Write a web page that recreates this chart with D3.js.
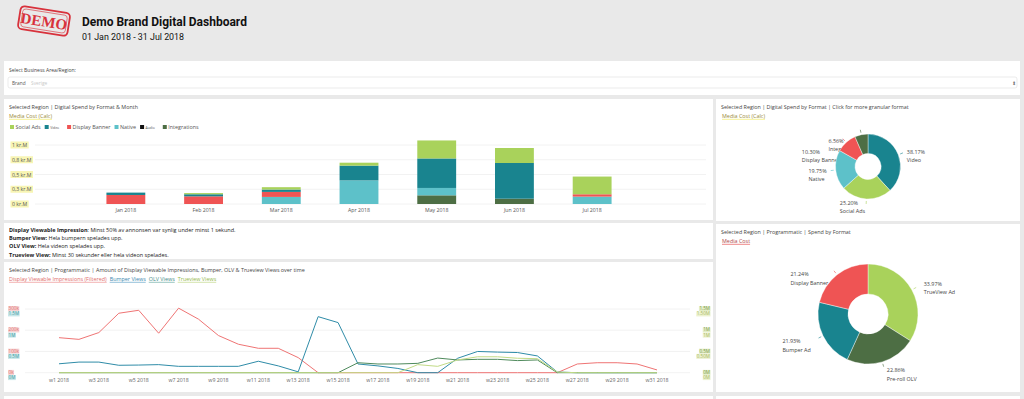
<!DOCTYPE html>
<html><head><meta charset="utf-8">
<script src="https://cdn.jsdelivr.net/npm/d3@7"></script>
<style>
html,body{margin:0;padding:0;background:#e9e9e9;overflow:hidden;}
svg{display:block;font-family:"Open Sans",sans-serif;}
</style></head><body>
<svg id="c" width="1024" height="399"></svg>
<script>
// ---------- DATA ----------
const months = ["Jan 2018","Feb 2018","Mar 2018","Apr 2018","May 2018","Jun 2018","Jul 2018"];
const formats = ["Integrations","Native","Display Banner","Audio","Video","Social Ads"];
const integrations  = [0, 0, 0, 0, 0.147, 0.09, 0];
const native        = [0, 0, 0.12, 0.40, 0.125, 0, 0.125];
const displayBanner = [0.153, 0.13, 0.085, 0, 0, 0, 0.04];
const audio         = [0, 0, 0, 0, 0, 0, 0];
const video         = [0.04, 0.035, 0.04, 0.25, 0.50, 0.605, 0];
const socialAds     = [0, 0.02, 0.04, 0.05, 0.305, 0.254, 0.30];
const barTicks = [0, 0.25, 0.5, 0.75, 1];
const barTickLabels = ["0 kr.M","0,3 kr.M","0,5 kr.M","0,8 kr.M","1 kr.M"];
const legendOrder = ["Social Ads","Video","Display Banner","Native","Audio","Integrations"];

const donut1Names  = ["Video","Social Ads","Native","Display Banner","Integrations"];
const donut1Shares = [38.17, 25.20, 19.75, 10.30, 6.56];
const donut2Names  = ["TrueView Ad","Pre-roll OLV","Bumper Ad","Display Banner"];
const donut2Shares = [33.97, 22.86, 21.93, 21.24];

const weeks = [1,2,3,4,5,6,7,8,9,10,11,12,13,14,15,16,17,18,19,20,21,22,23,24,25,26,27,28,29,30,31];
const weekLabels = ["w1 2018","w3 2018","w5 2018","w7 2018","w9 2018","w11 2018","w13 2018","w15 2018","w17 2018","w19 2018","w21 2018","w23 2018","w25 2018","w27 2018","w29 2018","w31 2018"];
const weekLabelWeeks = [1,3,5,7,9,11,13,15,17,19,21,23,25,27,29,31];
// Display Viewable Impressions (k)
const displayImpr = [165,157,189,280,294,186,304,252,175,134,115,115,71,0,0,0,0,0,0,0,0,0,0,0,0,0,41,47,47,41,13];
// Bumper Views (M)
const bumperViews = [0.21,0.25,0.25,0.175,0.18,0.19,0.15,0.15,0.15,0.15,0.27,0.16,0.02,1.32,1.18,0.205,0.16,0.1,0,0,0.34,0.5,0.485,0.475,0.395,0.015,0,0,0,0,0];
// OLV Views (M)
const olvViews = [0,0,0,0,0,0,0,0,0,0,0,0,0,0,0,0.235,0.205,0.205,0.22,0.345,0.3,0.315,0.315,0.285,0.3,0,0,0,0,0,0];
// Trueview Views (M)
const trueviewViews = [0,0,0,0,0,0,0,0,0,0,0,0,0,0,0,0,0,0,0.19,0.15,0.3,0.375,0.375,0.34,0.33,0.015,0,0,0,0,0];
const leftTicksRed  = ["0k","100k","200k","300k"];
const leftTicksTeal = ["0M","0.5M","1M","1.5M"];
const rightTicksA   = ["0M","0.5M","1M","1.5M"];
const rightTicksB   = ["0M","0.50M","1M","1.50M"];
const lineLegend = ["Display Viewable Impressions (Filtered)","Bumper Views","OLV Views","Trueview Views"];

// ---------- STYLE ----------
const col = {
  "Social Ads":"#a9d25b","Video":"#19848f","Display Banner":"#ef5454","Native":"#5dc1c9",
  "Audio":"#111111","Integrations":"#4d6e44",
  "TrueView Ad":"#a9d25b","Pre-roll OLV":"#4d6e44","Bumper Ad":"#19848f"
};
const txt = "#444";
const svg = d3.select("#c");

// ---------- HEADER ----------
const stamp = svg.append("g").attr("transform","translate(44,21) rotate(9)");
stamp.append("rect").attr("x",-25).attr("y",-11.5).attr("width",50).attr("height",23).attr("rx",4)
  .attr("fill","none").attr("stroke","#d8323c").attr("stroke-width",1.8);
stamp.append("rect").attr("x",-22.5).attr("y",-9).attr("width",45).attr("height",18).attr("rx",3)
  .attr("fill","none").attr("stroke","#d8323c").attr("stroke-width",0.6);
stamp.append("text").attr("x",0).attr("y",5.5).attr("text-anchor","middle")
  .attr("font-family","'Liberation Serif',serif").attr("font-weight","bold").attr("font-size",15)
  .attr("fill","#d8323c").text("DEMO");
svg.append("text").attr("x",82).attr("y",26).attr("font-family","Roboto,sans-serif").attr("font-weight","bold")
  .attr("font-size",12).attr("fill","#111").text("Demo Brand Digital Dashboard");
svg.append("text").attr("x",82).attr("y",39.5).attr("font-family","Roboto,sans-serif")
  .attr("font-size",8.9).attr("fill","#111").text("01 Jan 2018 - 31 Jul 2018");

// ---------- PANELS ----------
function panel(x,y,w,h){ svg.append("rect").attr("x",x).attr("y",y).attr("width",w).attr("height",h).attr("fill","#fff"); }
panel(4,61,1016,34);
panel(4,99,709,121);
panel(716,99,304,122);
panel(4,223,709,36);
panel(4,262,709,130);
panel(716,224,304,168);
panel(4,396,709,10);
panel(716,396,304,10);

function small(x,y,t,opts={}){
  const e = svg.append("text").attr("x",x).attr("y",y).attr("font-size",opts.size||5.4)
    .attr("fill",opts.fill||txt).text(t);
  if(opts.weight) e.attr("font-weight",opts.weight);
  if(opts.anchor) e.attr("text-anchor",opts.anchor);
  return e;
}
function underline(x,y,t,color,lineColor){
  const e = small(x,y,t,{fill:color});
  const w = e.node().getComputedTextLength();
  svg.append("line").attr("x1",x).attr("x2",x+w).attr("y1",y+1.3).attr("y2",y+1.3)
    .attr("stroke",lineColor).attr("stroke-width",0.8);
  return w;
}
function bgBehind(textSel,x,y,w,h,fill){
  const n = textSel.node();
  svg.insert("rect",()=>n).attr("x",x).attr("y",y).attr("width",w).attr("height",h).attr("fill",fill);
}

// selector
small(9,72,"Select Business Area/Region:",{size:5});
svg.append("rect").attr("x",8).attr("y",77).attr("width",1009).attr("height",11).attr("rx",2)
  .attr("fill","#fff").attr("stroke","#e2e2e2").attr("stroke-width",0.7);
small(12,84.5,"Brand",{size:4.8,fill:"#555"});
small(31,84.5,"Sverige",{size:4.8,fill:"#c8c8c8"});
small(1012,84.5,"⬍",{size:5,fill:"#777"});

// ---------- BAR CHART ----------
small(9,109,"Selected Region | Digital Spend by Format & Month");
underline(9,118,"Media Cost (Calc)","#9a8a3a","#f3ee7a");
{
  let lx = 10;
  legendOrder.forEach(n=>{
    svg.append("rect").attr("x",lx).attr("y",125).attr("width",4).attr("height",4).attr("fill",col[n]);
    const tiny = (n==="Video"||n==="Audio");
    const t = small(lx+5.5,129.3,n,{size: tiny?3.4:5.4, fill:"#555"});
    lx += 5.5 + t.node().getComputedTextLength() + (tiny?8:4);
  });
}
const bx = d3.scaleBand().domain(months).range([87,631]).paddingInner(0.5).paddingOuter(0.25);
const by = d3.scaleLinear().domain([0,1]).range([204,145]);
svg.append("g").selectAll("line").data(barTicks).join("line")
  .attr("x1",35).attr("x2",706).attr("y1",d=>by(d)).attr("y2",d=>by(d))
  .attr("stroke","#efefef").attr("stroke-width",0.8);
barTicks.forEach((d,i)=>{
  const t = small(12,by(d)+2,barTickLabels[i],{size:5.2,fill:"#555"});
  const w = t.node().getComputedTextLength();
  bgBehind(t,10.5,by(d)-3.5,w+3,7,"#f8f5b4");
});
const seriesMap = {"Integrations":integrations,"Native":native,"Display Banner":displayBanner,"Audio":audio,"Video":video,"Social Ads":socialAds};
const table = months.map((m,i)=>{ const o={month:m}; formats.forEach(f=>o[f]=seriesMap[f][i]); return o; });
const stack = d3.stack().keys(formats)(table);
svg.append("g").selectAll("g").data(stack).join("g").attr("fill",d=>col[d.key])
  .selectAll("rect").data(d=>d).join("rect")
  .attr("x",d=>bx(d.data.month)).attr("width",bx.bandwidth())
  .attr("y",d=>by(d[1])).attr("height",d=>Math.max(0,by(d[0])-by(d[1])));
months.forEach(m=>small(bx(m)+bx.bandwidth()/2,211.5,m,{anchor:"middle",size:5.2,fill:"#555"}));

// ---------- DONUTS ----------
function donut(cx,cy,r,names,shares,title,subtitle,subColor,subLine,titleY){
  small(721,titleY,title);
  underline(722,titleY+9,subtitle,subColor,subLine);
  const data = names.map((n,i)=>({name:n,value:shares[i]}));
  const arcs = d3.pie().value(d=>d.value).sort(null)(data);
  const arc = d3.arc().innerRadius(r*0.4).outerRadius(r);
  const g = svg.append("g").attr("transform",`translate(${cx},${cy})`);
  const R = r*1.25;
  const labels = arcs.map(a=>{
    const m = (a.startAngle+a.endAngle)/2;
    return {a, m, x: Math.sin(m)*R, y: -Math.cos(m)*R, right: Math.sin(m)>0.05};
  });
  ["L","R"].forEach(side=>{
    const L = labels.filter(l=>(side==="R")===l.right).sort((p,q)=>p.y-q.y);
    let prev = -Infinity;
    L.forEach(l=>{ l.y = Math.max(l.y, -r*0.8, prev+11); l.y = Math.min(l.y, r*1.12); prev=l.y; });
  });
  labels.forEach(l=>{
    const p1 = [Math.sin(l.m)*(r+2), -Math.cos(l.m)*(r+2)];
    const p2 = [Math.sin(l.m)*(r+5), -Math.cos(l.m)*(r+5)];
    g.append("line").attr("x1",p1[0]).attr("y1",p1[1]).attr("x2",p2[0]).attr("y2",p2[1])
      .attr("stroke",col[l.a.data.name]).attr("stroke-width",0.6);
    const lg = g.append("g");
    const t1 = lg.append("text").attr("y",l.y+2).attr("font-size",5.4).attr("fill",txt).text(l.a.data.value.toFixed(2)+"%");
    const t2 = lg.append("text").attr("y",l.y+10.5).attr("font-size",5.4).attr("fill",txt).text(l.a.data.name);
    const w = Math.max(t1.node().getComputedTextLength(), t2.node().getComputedTextLength());
    const x0 = l.right ? l.x+1 : l.x-1-w;
    t1.attr("x",x0); t2.attr("x",x0);
  });
  g.selectAll("path").data(arcs).join("path").attr("d",arc).attr("fill",d=>col[d.data.name])
    .attr("stroke","#fff").attr("stroke-width",0.4);
}
donut(868,166.5,32.5,donut1Names,donut1Shares,
  "Selected Region | Digital Spend by Format | Click for more granular format","Media Cost (Calc)","#9a8a3a","#f3ee7a",109);
donut(868,314,50,donut2Names,donut2Shares,
  "Selected Region | Programmatic | Spend by Format","Media Cost","#b04848","#e86a6a",234);

// ---------- INFO ----------
[["Display Viewable Impression",": Minst 50% av annonsen var synlig under minst 1 sekund."],
 ["Bumper View:"," Hela bumpern spelades upp."],
 ["OLV View:"," Hela videon spelades upp."],
 ["Trueview View:"," Minst 30 sekunder eller hela videon spelades."]].forEach((r,i)=>{
  const t = svg.append("text").attr("x",9).attr("y",232+i*8.2).attr("font-size",5.5).attr("fill","#222");
  t.append("tspan").attr("font-weight","bold").text(r[0]);
  t.append("tspan").text(r[1]);
});

// ---------- LINE CHART ----------
small(9,272,"Selected Region | Programmatic | Amount of Display Viewable Impressions, Bumper, OLV & Trueview Views over time");
{
  const lc = ["#e06a6a","#3a86ad","#3f8a86","#93b84e"];
  const ll = ["#f0a0a0","#7ab0d0","#80b8b0","#c8dc98"];
  let lx = 9;
  lineLegend.forEach((n,i)=>{ const w = underline(lx,281,n,lc[i],ll[i]); lx += w+3; });
}
const lx = d3.scaleLinear().domain([1,31]).range([59,657]);
const yRed = d3.scaleLinear().domain([0,300]).range([372.7,309]);
const yM = d3.scaleLinear().domain([0,1.5]).range([372.7,309]);
const gridVals = [0,0.5,1,1.5];
svg.append("g").selectAll("line").data(gridVals).join("line")
  .attr("x1",25).attr("x2",690).attr("y1",d=>yM(d)).attr("y2",d=>yM(d))
  .attr("stroke","#efefef").attr("stroke-width",0.8);
function hl(x,y,t,fg,bg,anchor){
  const e = small(x,y,t,{size:4.6,fill:fg,anchor:anchor||"start"});
  const w = e.node().getComputedTextLength();
  const x0 = anchor==="end" ? x-w : x;
  bgBehind(e,x0-0.5,y-4,w+1,5,bg);
}
gridVals.forEach((d,i)=>{
  hl(8.5,yM(d)+1.2,leftTicksRed[i],"#e07070","#f7d3d3");
  hl(8.5,yM(d)+6.4,leftTicksTeal[i],"#3d9aa2","#c7e6e8");
  hl(710,yM(d)+1.2,rightTicksA[i],"#7a9a4a","#e3edc6","end");
  hl(710,yM(d)+6.4,rightTicksB[i],"#a8b860","#ecf1cf","end");
});
weekLabelWeeks.forEach((w,i)=>small(lx(w),382,weekLabels[i],{anchor:"middle",size:5.2,fill:"#666"}));
const lineGen = (ys,arr)=>d3.line().x((d,i)=>lx(weeks[i])).y(d=>ys(d))(arr);
[[displayImpr,yRed,"#ef7474"],[bumperViews,yM,"#2f8ca8"],[olvViews,yM,"#4f8a5c"],[trueviewViews,yM,"#c2db86"]]
  .forEach(([arr,ys,c])=>{
    svg.append("path").attr("d",lineGen(ys,arr)).attr("fill","none").attr("stroke",c).attr("stroke-width",1);
  });
</script>
</body></html>
